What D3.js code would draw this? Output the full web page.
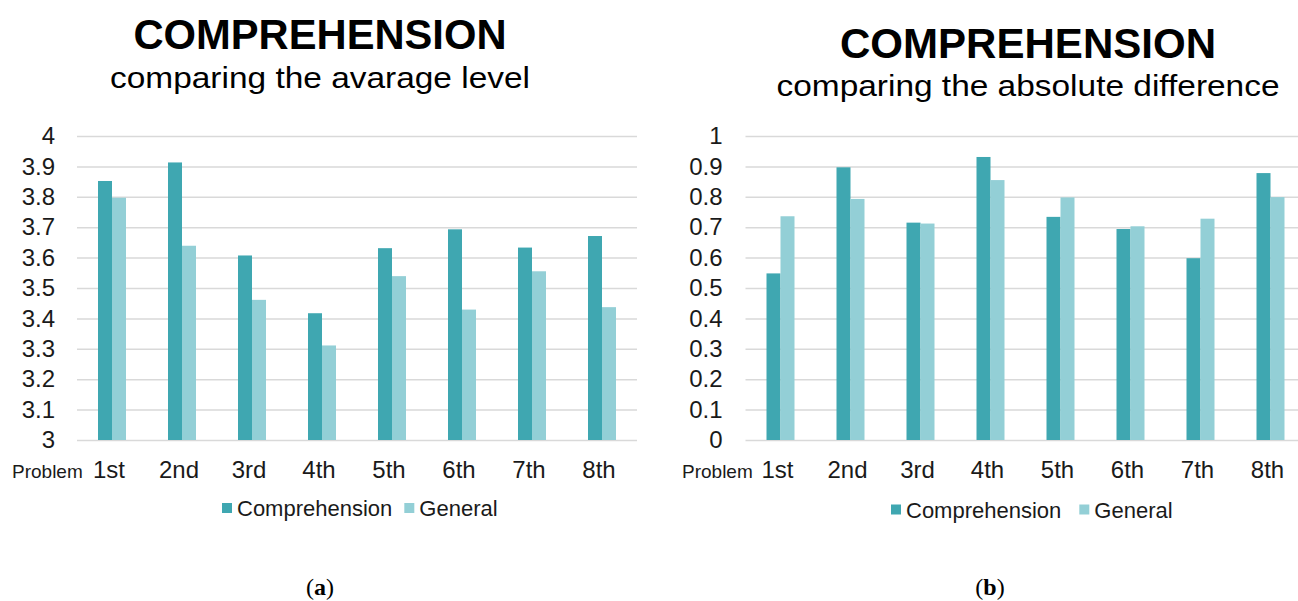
<!DOCTYPE html>
<html>
	<head>
		<title>Comprehension</title>

		<style>
			body
			{
				margin: 0;
				background: #ffffff;
			}

			svg
			{
				width: 1298px;
				height: 601px;
				display: block;
			}

			.gridLine
			{
				stroke: #d9d9d9;
				stroke-width: 1.5px;
			}

			.chartTitle
			{
				font: bold 42px "Liberation Sans", Arial, sans-serif;
				fill: #000000;
				text-anchor: middle;
			}

			.chartSubtitle
			{
				font: 30px "Liberation Sans", Arial, sans-serif;
				fill: #000000;
				text-anchor: middle;
			}

			.problemText
			{
				font: 19px "Liberation Sans", Arial, sans-serif;
				fill: #1a1a1a;
			}

			.legendText
			{
				font: 22px "Liberation Sans", Arial, sans-serif;
				fill: #1a1a1a;
			}

			.captionText
			{
				font: 24px "Liberation Serif", "DejaVu Serif", serif;
				fill: #000000;
				text-anchor: middle;
			}
		</style>

		<script src="https://cdn.jsdelivr.net/npm/d3@7"></script>
	</head>

	<body>
		<svg></svg>

		<script>
			var problems = ["1st", "2nd", "3rd", "4th", "5th", "6th", "7th", "8th"];
			var seriesNames = ["Comprehension", "General"];

			// (a) average level
			var avgComprehension = [3.852, 3.913, 3.607, 3.417, 3.631, 3.693, 3.633, 3.671];
			var avgGeneral = [3.797, 3.639, 3.461, 3.311, 3.539, 3.429, 3.555, 3.437];
			var avgTicks = [3, 3.1, 3.2, 3.3, 3.4, 3.5, 3.6, 3.7, 3.8, 3.9, 4];

			// (b) absolute difference
			var diffComprehension = [0.548, 0.897, 0.715, 0.931, 0.734, 0.694, 0.598, 0.878];
			var diffGeneral = [0.736, 0.793, 0.712, 0.855, 0.798, 0.703, 0.728, 0.799];
			var diffTicks = [0, 0.1, 0.2, 0.3, 0.4, 0.5, 0.6, 0.7, 0.8, 0.9, 1];

			var colors = ["#3fa7b1", "#93cfd6"];
			var font = "'Liberation Sans', Arial, sans-serif";

			let comboChart =
			{
				top: 136,
				bottom: 440,
				panels:
				[
					{
						left: 77, right: 637, domain: [3, 4], ticks: avgTicks,
						values: [avgComprehension, avgGeneral],
						title: "COMPREHENSION", titleX: 320, titleY: 49, titleLen: 373,
						subtitle: "comparing the avarage level", subY: 88, subLen: 420,
						problemX: 12, labelPad: 22,
						legendX: 222, legendY: 516, legendGap: 12,
						caption: "a", captionX: 320
					},
					{
						left: 745.5, right: 1305.5, domain: [0, 1], ticks: diffTicks,
						values: [diffComprehension, diffGeneral],
						title: "COMPREHENSION", titleX: 1028, titleY: 58, titleLen: 376,
						subtitle: "comparing the absolute difference", subY: 96, subLen: 503,
						problemX: 682, labelPad: 23,
						legendX: 891, legendY: 517.5, legendGap: 18,
						caption: "b", captionX: 990
					}
				],
				drawCharts: function()
				{
					var svgChart = d3.select("svg");
					svgChart.html("");

					for (var i = 0; i < this.panels.length; i++)
					{
						this.drawPanel(svgChart, this.panels[i]);
					}
				},
				drawPanel: function(chart, p)
				{
					var x = d3.scaleBand()
						.domain(problems)
						.range([p.left, p.right])
						.paddingInner(0.6)
						.paddingOuter(0.3);

					var x1 = d3.scaleBand()
						.domain(seriesNames)
						.range([0, x.bandwidth()]);

					var y = d3.scaleLinear()
						.domain(p.domain)
						.range([this.bottom, this.top]);

					// gridlines + value labels
					var yAxis = chart.append("g")
						.attr("transform", "translate(" + p.left + ",0)")
						.call(d3.axisLeft(y)
							.tickValues(p.ticks)
							.tickSize(-(Math.min(p.right, 1298) - p.left))
							.tickPadding(p.labelPad)
							.tickFormat(function(d)
							{
								return String(+d.toFixed(1));
							}));

					yAxis.select(".domain").remove();
					yAxis.selectAll(".tick line").attr("class", "gridLine").attr("stroke", null);
					yAxis.selectAll(".tick text")
						.attr("font-family", font)
						.attr("font-size", "24px")
						.attr("fill", "#1a1a1a");

					// bars
					var rows = problems.map(function(name, i)
					{
						return seriesNames.map(function(s, k)
						{
							return { problem: name, series: s, value: p.values[k][i], k: k };
						});
					});

					chart.append("g")
						.selectAll("g")
						.data(rows)
						.enter()
						.append("g")
						.attr("transform", function(d)
						{
							return "translate(" + x(d[0].problem) + ",0)";
						})
						.selectAll("rect")
						.data(function(d)
						{
							return d;
						})
						.enter()
						.append("rect")
						.attr("x", function(d)
						{
							return x1(d.series);
						})
						.attr("y", function(d)
						{
							return y(d.value);
						})
						.attr("width", x1.bandwidth())
						.attr("height", function(d)
						{
							return y(p.domain[0]) - y(d.value);
						})
						.attr("fill", function(d)
						{
							return colors[d.k];
						});

					// category labels
					var xAxis = chart.append("g")
						.attr("transform", "translate(-3," + this.bottom + ")")
						.call(d3.axisBottom(x).tickSize(0).tickPadding(21));

					xAxis.select(".domain").remove();
					xAxis.selectAll(".tick text")
						.attr("font-family", font)
						.attr("font-size", "24px")
						.attr("fill", "#1a1a1a");

					chart.append("text")
						.attr("class", "problemText")
						.attr("x", p.problemX)
						.attr("y", 477.5)
						.text("Problem");

					// titles
					chart.append("text")
						.attr("class", "chartTitle")
						.attr("x", p.titleX)
						.attr("y", p.titleY)
						.attr("textLength", p.titleLen)
						.attr("lengthAdjust", "spacingAndGlyphs")
						.text(p.title);

					chart.append("text")
						.attr("class", "chartSubtitle")
						.attr("x", p.titleX)
						.attr("y", p.subY)
						.attr("textLength", p.subLen)
						.attr("lengthAdjust", "spacingAndGlyphs")
						.text(p.subtitle);

					this.drawLegend(chart, p);

					var cap = chart.append("text")
						.attr("class", "captionText")
						.attr("x", p.captionX)
						.attr("y", 595);
					cap.append("tspan").text("(");
					cap.append("tspan").attr("font-weight", "bold").text(p.caption);
					cap.append("tspan").text(")");
				},
				drawLegend: function(chart, p)
				{
					var cx = p.legendX;

					for (var k = 0; k < seriesNames.length; k++)
					{
						chart.append("rect")
							.attr("x", cx)
							.attr("y", p.legendY - 13)
							.attr("width", 10)
							.attr("height", 10)
							.attr("fill", colors[k]);

						var t = chart.append("text")
							.attr("class", "legendText")
							.attr("x", cx + 15)
							.attr("y", p.legendY)
							.text(seriesNames[k]);

						cx = cx + 15 + t.node().getComputedTextLength() + p.legendGap;
					}
				}
			};

			comboChart.drawCharts();
		</script>
	</body>
</html>
